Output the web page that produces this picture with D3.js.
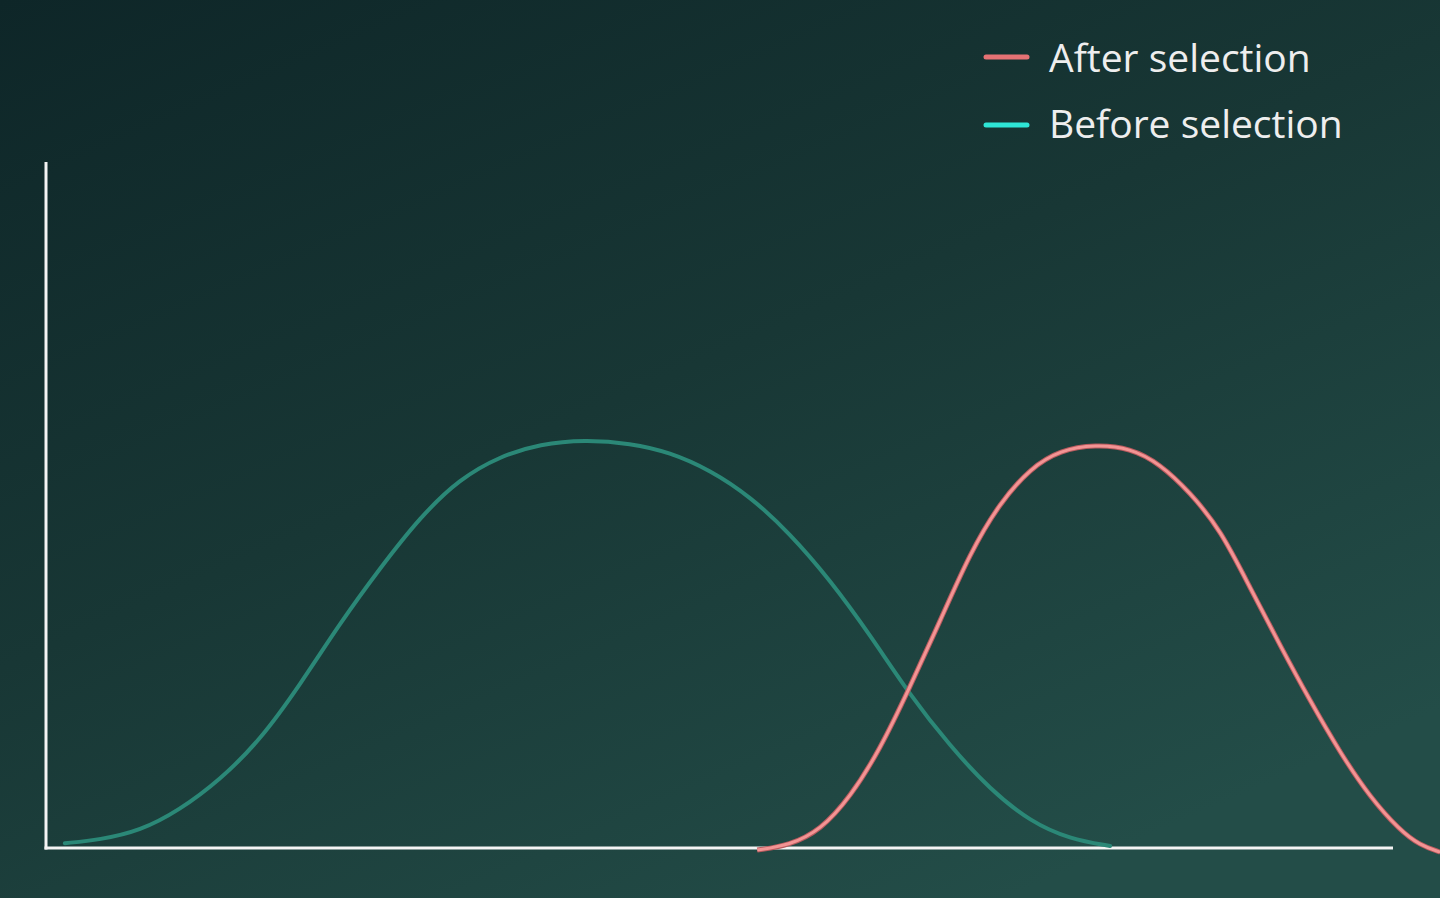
<!DOCTYPE html>
<html>
<head>
<meta charset="utf-8">
<script src="https://cdn.jsdelivr.net/npm/d3@7"></script>
<style>
  html, body { margin: 0; padding: 0; overflow: hidden; }
  body { width: 1440px; height: 898px; }
</style>
</head>
<body>
<div id="chart"></div>
<script>
// trait value (x) and density (y)
const beforeX = [1.4, 4.0, 7.0, 9.9, 12.9, 15.9, 18.9, 21.8, 24.8, 27.8, 30.7, 33.7, 36.7, 40.0, 43.4, 46.3, 49.3, 52.3, 55.2, 58.2, 61.2, 64.1, 67.1, 70.1, 73.1, 76.0, 79.0];
const beforeY = [0.007, 0.012, 0.025, 0.055, 0.099, 0.157, 0.239, 0.327, 0.408, 0.483, 0.538, 0.571, 0.589, 0.595, 0.590, 0.577, 0.551, 0.512, 0.459, 0.391, 0.310, 0.224, 0.149, 0.085, 0.038, 0.013, 0.003];

const afterX = [52.8, 55.2, 57.5, 59.7, 61.9, 64.1, 66.4, 68.6, 70.8, 73.1, 75.3, 77.9, 80.5, 82.7, 84.9, 87.2, 89.4, 91.6, 93.8, 96.1, 98.3, 100.5, 102.0, 103.5];
const afterY = [-0.003, 0.004, 0.026, 0.074, 0.143, 0.233, 0.332, 0.430, 0.503, 0.554, 0.580, 0.588, 0.583, 0.560, 0.519, 0.464, 0.379, 0.296, 0.216, 0.138, 0.074, 0.026, 0.004, -0.006];

const legendLabels = ["After selection", "Before selection"];

const width = 1440, height = 898;
const margin = {top: 162, right: 47, bottom: 50, left: 46};

const svg = d3.select("#chart").append("svg")
    .attr("width", width)
    .attr("height", height);

// background gradient
const grad = svg.append("defs").append("linearGradient")
    .attr("id", "bg")
    .attr("x1", "0%").attr("y1", "0%")
    .attr("x2", "70%").attr("y2", "100%");
grad.append("stop").attr("offset", "0%").attr("stop-color", "#0e2628");
grad.append("stop").attr("offset", "50%").attr("stop-color", "#183735");
grad.append("stop").attr("offset", "100%").attr("stop-color", "#234d48");

svg.append("rect")
    .attr("width", width)
    .attr("height", height)
    .attr("fill", "url(#bg)");

const x = d3.scaleLinear()
    .domain([0, 100])
    .range([margin.left, width - margin.right]);

const y = d3.scaleLinear()
    .domain([0, 1])
    .range([height - margin.bottom, margin.top]);

const line = d3.line()
    .x(d => x(d[0]))
    .y(d => y(d[1]))
    .curve(d3.curveBasis);

const before = d3.zip(beforeX, beforeY);
const after = d3.zip(afterX, afterY);

// axes: plain lines, no ticks
svg.append("line")
    .attr("x1", x(0)).attr("x2", x(0))
    .attr("y1", y(1)).attr("y2", y(0) + 1.5)
    .attr("stroke", "#f4f4f4")
    .attr("stroke-width", 3);

svg.append("line")
    .attr("x1", x(0) - 1.5).attr("x2", x(100))
    .attr("y1", y(0)).attr("y2", y(0))
    .attr("stroke", "#f4f4f4")
    .attr("stroke-width", 3);

svg.append("path")
    .datum(before)
    .attr("fill", "none")
    .attr("stroke", "#2b8877")
    .attr("stroke-width", 4)
    .attr("stroke-linecap", "round")
    .attr("d", line);

svg.append("path")
    .datum(after)
    .attr("fill", "none")
    .attr("stroke", "#b85a5e")
    .attr("stroke-width", 5)
    .attr("d", line);

svg.append("path")
    .datum(after)
    .attr("fill", "none")
    .attr("stroke", "#f39494")
    .attr("stroke-width", 3)
    .attr("d", line);

// legend
const legendColors = ["#e57274", "#2ee6d6"];
const legend = svg.append("g")
    .selectAll("g")
    .data(legendLabels)
    .join("g");

legend.append("line")
    .attr("x1", 986).attr("x2", 1027)
    .attr("y1", (d, i) => 57 + i * 68)
    .attr("y2", (d, i) => 57 + i * 68)
    .attr("stroke", (d, i) => legendColors[i])
    .attr("stroke-width", 5)
    .attr("stroke-linecap", "round");

legend.append("text")
    .attr("x", 1049)
    .attr("y", (d, i) => 72 + i * 66)
    .attr("fill", "#eeeeee")
    .style("font-family", "'Open Sans', 'Noto Sans', sans-serif")
    .style("font-size", "39px")
    .text(d => d);
</script>
</body>
</html>
